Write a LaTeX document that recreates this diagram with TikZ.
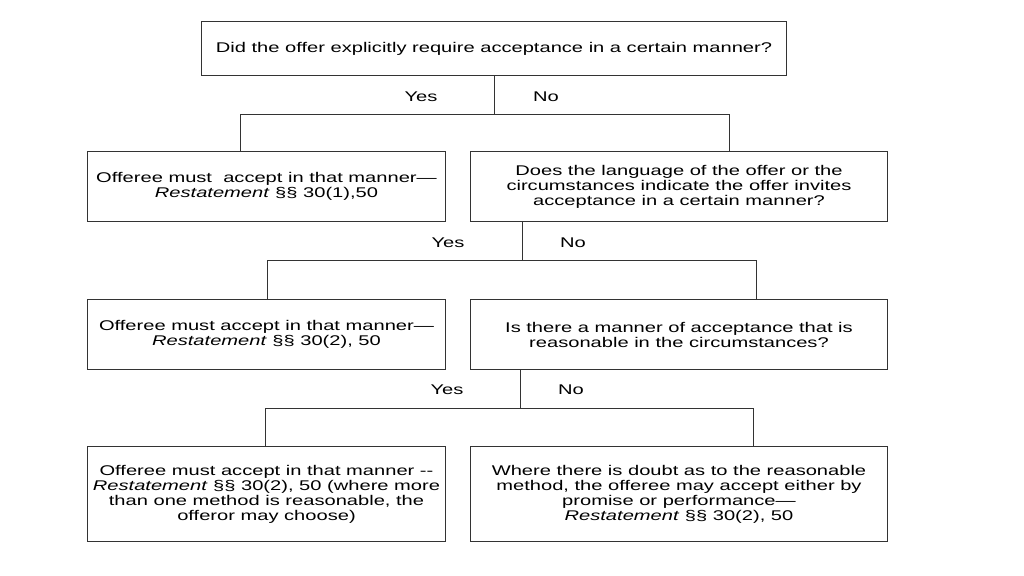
\documentclass[tikz,border=0pt]{standalone}
\usepackage{fontspec}
\setmainfont{Liberation Sans}[FakeStretch=1.43]
\usetikzlibrary{positioning}

\tikzset{
  box/.style={draw=black!80, line width=0.7pt, align=center, inner sep=0pt},
  qbox/.style={box, minimum width=10.4cm, minimum height=1.725cm},
  abox/.style={box, minimum width=8.925cm, minimum height=1.725cm},
  lbl/.style={inner sep=0pt},
  link/.style={draw=black!80, line width=0.7pt}
}

\begin{document}
\begin{tikzpicture}[x=0.025cm,y=-0.025cm,font=\fontsize{10pt}{10.67pt}\selectfont]
  \useasboundingbox (0,0) rectangle (1024,576);
  % top question
  \node[box, minimum width=14.6cm, minimum height=1.325cm] (q1) at (494,48.5)
    {Did the offer explicitly require acceptance in a certain manner?};
  % first split
  \coordinate (s1) at (494,114); \coordinate (l1) at (240,114); \coordinate (r1) at (729,114);
  \node[lbl] (y1) at (421,97) {Yes};
  \node[lbl] (n1) at (546,97) {No};
  \node[abox] (a1) at (266.5,186.5)
    {Offeree must\ \ accept in that manner—\\\textit{Restatement} §§ 30(1),50};
  \node[qbox] (q2) at (679,186.5)
    {Does the language of the offer or the\\circumstances indicate the offer invites\\acceptance in a certain manner?};
  \draw[link] (q1.south) -- (s1);
  \draw[link] (a1.north -| l1) -- (l1) -- (r1) -- (q2.north -| r1);
  % second split
  \coordinate (s2) at (522,260); \coordinate (l2) at (267,260); \coordinate (r2) at (756,260);
  \node[lbl] (y2) at (448,243) {Yes};
  \node[lbl] (n2) at (573,243) {No};
  \node[abox] (a2) at (266.5,334.5)
    {Offeree must accept in that manner—\\\textit{Restatement} §§ 30(2), 50};
  \node[qbox] (q3) at (679,334.5)
    {Is there a manner of acceptance that is\\reasonable in the circumstances?};
  \draw[link] (q2.south -| s2) -- (s2);
  \draw[link] (a2.north -| l2) -- (l2) -- (r2) -- (q3.north -| r2);
  % third split
  \coordinate (s3) at (520,408); \coordinate (l3) at (265,408); \coordinate (r3) at (753,408);
  \node[lbl] (y3) at (447,390) {Yes};
  \node[lbl] (n3) at (571,390) {No};
  \node[abox, minimum height=2.35cm] (a3) at (266.5,494)
    {Offeree must accept in that manner -{}-\\\textit{Restatement} §§ 30(2), 50 (where more\\than one method is reasonable, the\\offeror may choose)};
  \node[qbox, minimum height=2.35cm] (d3) at (679,494)
    {Where there is doubt as to the reasonable\\method, the offeree may accept either by\\promise or performance—\\\textit{Restatement} §§ 30(2), 50};
  \draw[link] (q3.south -| s3) -- (s3);
  \draw[link] (a3.north -| l3) -- (l3) -- (r3) -- (d3.north -| r3);
\end{tikzpicture}
\end{document}
